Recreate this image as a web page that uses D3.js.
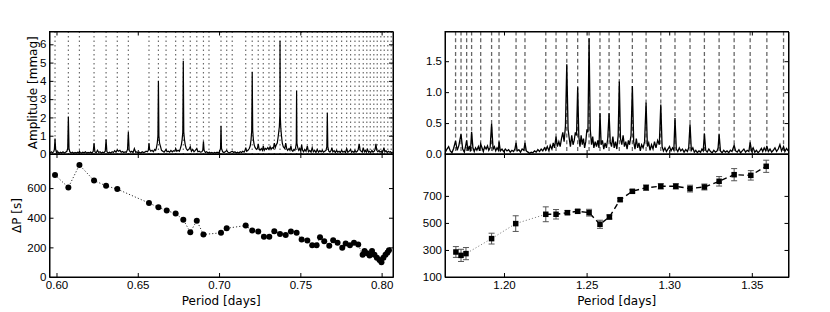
<!DOCTYPE html>
<html>
<head>
<meta charset="utf-8">
<script src="https://cdn.jsdelivr.net/npm/d3@7"></script>
<style>
body { margin: 0; background: #fff; }
svg { font-family: "DejaVu Sans", sans-serif; }
.axis text { font-size: 11.5px; fill: #000; }
.axis path, .axis line { stroke: #000; stroke-width: 1; }
.label { font-size: 12px; fill: #000; }
</style>
</head>
<body>
<svg id="chart" width="830" height="312"></svg>
<script>
// ---- data (periods in days) ----
var linesL = [0.5991, 0.6073, 0.6141, 0.6231, 0.6305, 0.6374, 0.6442, 0.6569, 0.6627, 0.6674, 0.6733,
	0.6780, 0.6823, 0.6863, 0.6904, 0.6938, 0.7012, 0.7047, 0.7081, 0.7164, 0.7204, 0.7241, 0.7272,
	0.7307, 0.7340, 0.7375, 0.7410, 0.7442, 0.7477, 0.7508, 0.7543, 0.7573, 0.7604, 0.7635, 0.7666,
	0.7694, 0.7723, 0.7754, 0.7785, 0.7809, 0.7836, 0.7862, 0.7887, 0.7909, 0.7930, 0.7952, 0.7973,
	0.7995, 0.8016, 0.8038, 0.8059];

var specL = [[0.5960,0.05],[0.5968,0.12],[0.5976,0.06],[0.5984,0.15],[0.5987,0.25],[0.5991,0.85],[0.5995,0.25],
	[0.6000,0.08],[0.6008,0.12],[0.6016,0.04],[0.6024,0.1],[0.6032,0.06],[0.6040,0.12],[0.6048,0.05],[0.6056,0.1],
	[0.6064,0.15],[0.6069,0.3],[0.6073,2.05],[0.6077,0.3],[0.6082,0.12],[0.6090,0.06],[0.6098,0.1],[0.6106,0.04],
	[0.6114,0.08],[0.6122,0.05],[0.6130,0.1],[0.6138,0.06],[0.6141,0.15],[0.6146,0.08],[0.6154,0.05],[0.6162,0.1],
	[0.6170,0.07],[0.6178,0.12],[0.6186,0.05],[0.6194,0.09],[0.6202,0.06],[0.6210,0.11],[0.6218,0.05],[0.6226,0.15],
	[0.6231,0.6],[0.6236,0.12],[0.6244,0.06],[0.6252,0.2],[0.6260,0.08],[0.6268,0.12],[0.6276,0.05],[0.6284,0.1],
	[0.6292,0.07],[0.6300,0.15],[0.6305,0.8],[0.6310,0.12],[0.6318,0.06],[0.6326,0.1],[0.6334,0.05],[0.6342,0.12],
	[0.6350,0.08],[0.6358,0.18],[0.6366,0.1],[0.6374,0.22],[0.6382,0.15],[0.6390,0.2],[0.6398,0.1],[0.6406,0.14],
	[0.6414,0.08],[0.6422,0.12],[0.6430,0.1],[0.6437,0.25],[0.6442,1.2],[0.6447,0.2],[0.6455,0.1],[0.6463,0.15],
	[0.6471,0.08],[0.6479,0.3],[0.6487,0.1],[0.6495,0.12],[0.6503,0.05],[0.6511,0.1],[0.6519,0.06],[0.6527,0.12],
	[0.6535,0.08],[0.6543,0.1],[0.6551,0.15],[0.6559,0.12],[0.6565,0.2],[0.6569,0.6],[0.6573,0.25],[0.6580,0.15],
	[0.6588,0.2],[0.6596,0.12],[0.6604,0.25],[0.6610,0.2],[0.6615,0.35],[0.6620,0.6],[0.6624,1.0],[0.6627,4.0],
	[0.6630,1.0],[0.6634,0.6],[0.6640,0.4],[0.6646,0.2],[0.6654,0.15],[0.6662,0.1],[0.6670,0.2],[0.6674,0.25],
	[0.6680,0.12],[0.6688,0.15],[0.6696,0.1],[0.6704,0.2],[0.6712,0.12],[0.6720,0.18],[0.6728,0.15],[0.6733,0.3],
	[0.6740,0.15],[0.6748,0.2],[0.6756,0.15],[0.6762,0.3],[0.6768,0.5],[0.6773,0.8],[0.6777,1.2],[0.6780,5.1],
	[0.6783,1.2],[0.6787,0.8],[0.6792,0.5],[0.6798,0.3],[0.6806,0.2],[0.6814,0.25],[0.6823,0.4],[0.6830,0.15],
	[0.6838,0.25],[0.6846,0.12],[0.6854,0.2],[0.6863,0.3],[0.6870,0.12],[0.6878,0.15],[0.6886,0.1],[0.6894,0.12],
	[0.6900,0.2],[0.6904,0.7],[0.6908,0.2],[0.6916,0.08],[0.6924,0.12],[0.6932,0.06],[0.6940,0.1],[0.6948,0.05],
	[0.6956,0.08],[0.6964,0.04],[0.6972,0.09],[0.6980,0.05],[0.6988,0.1],[0.6996,0.06],[0.7004,0.15],[0.7009,0.3],
	[0.7012,1.55],[0.7015,0.3],[0.7022,0.12],[0.7030,0.08],[0.7038,0.12],[0.7047,0.2],[0.7054,0.1],[0.7062,0.06],
	[0.7070,0.1],[0.7081,0.15],[0.7090,0.08],[0.7098,0.12],[0.7106,0.05],[0.7114,0.1],[0.7122,0.06],[0.7130,0.12],
	[0.7138,0.08],[0.7146,0.15],[0.7154,0.1],[0.7160,0.2],[0.7164,0.35],[0.7170,0.15],[0.7178,0.2],[0.7186,0.3],
	[0.7192,0.45],[0.7197,0.8],[0.7201,1.3],[0.7204,4.5],[0.7207,1.3],[0.7211,0.8],[0.7216,0.5],[0.7222,0.35],
	[0.7230,0.25],[0.7236,0.3],[0.7241,0.55],[0.7246,0.3],[0.7252,0.2],[0.7260,0.3],[0.7267,0.2],[0.7272,0.45],
	[0.7278,0.2],[0.7285,0.3],[0.7292,0.25],[0.7300,0.35],[0.7307,0.25],[0.7314,0.4],[0.7320,0.25],[0.7327,0.35],
	[0.7334,0.3],[0.7340,0.6],[0.7346,0.35],[0.7352,0.5],[0.7358,0.6],[0.7363,0.9],[0.7367,1.2],[0.7371,1.5],
	[0.7374,2.2],[0.7375,6.2],[0.7377,2.0],[0.7380,1.4],[0.7384,1.0],[0.7389,0.6],[0.7395,0.4],[0.7404,0.3],
	[0.7410,0.6],[0.7416,0.3],[0.7422,0.2],[0.7430,0.3],[0.7436,0.2],[0.7442,0.45],[0.7448,0.2],[0.7454,0.15],
	[0.7460,0.25],[0.7466,0.2],[0.7471,0.35],[0.7475,0.6],[0.7477,3.45],[0.7479,0.6],[0.7484,0.35],[0.7490,0.2],
	[0.7496,0.3],[0.7502,0.15],[0.7508,0.5],[0.7514,0.2],[0.7520,0.12],[0.7527,0.25],[0.7535,0.15],[0.7543,0.45],
	[0.7550,0.12],[0.7558,0.2],[0.7566,0.1],[0.7573,0.35],[0.7580,0.12],[0.7588,0.2],[0.7596,0.08],[0.7604,0.25],
	[0.7612,0.1],[0.7620,0.18],[0.7628,0.12],[0.7635,0.2],[0.7642,0.1],[0.7650,0.15],[0.7658,0.2],[0.7663,0.4],
	[0.7666,2.25],[0.7669,0.4],[0.7675,0.15],[0.7682,0.1],[0.7690,0.2],[0.7694,0.35],[0.7700,0.12],[0.7708,0.18],
	[0.7715,0.08],[0.7723,0.2],[0.7730,0.1],[0.7738,0.15],[0.7746,0.08],[0.7754,0.2],[0.7762,0.1],[0.7770,0.15],
	[0.7778,0.08],[0.7785,0.3],[0.7792,0.1],[0.7800,0.15],[0.7809,0.25],[0.7815,0.1],[0.7822,0.15],[0.7830,0.08],
	[0.7836,0.2],[0.7843,0.1],[0.7850,0.15],[0.7856,0.25],[0.7862,0.55],[0.7868,0.2],[0.7875,0.15],[0.7881,0.1],
	[0.7887,0.35],[0.7894,0.12],[0.7900,0.2],[0.7906,0.1],[0.7913,0.25],[0.7920,0.1],[0.7926,0.15],[0.7933,0.08],
	[0.7940,0.2],[0.7947,0.1],[0.7954,0.15],[0.7960,0.25],[0.7965,0.55],[0.7970,0.2],[0.7977,0.12],[0.7984,0.2],
	[0.7990,0.1],[0.7997,0.15],[0.8004,0.08],[0.8010,0.2],[0.8014,0.35],[0.8020,0.12],[0.8027,0.18],[0.8034,0.08],
	[0.8041,0.15],[0.8048,0.1],[0.8055,0.12],[0.8062,0.06],[0.8068,0.1]];

var dpPeriodL = [0.5991, 0.6073, 0.6141, 0.6231, 0.6305, 0.6374, 0.6569, 0.6627, 0.6678, 0.6733, 0.6780,
	0.6823, 0.6863, 0.6904, 0.7012, 0.7047, 0.7164, 0.7204, 0.7241, 0.7276, 0.7309, 0.7340, 0.7375,
	0.7410, 0.7442, 0.7477, 0.7508, 0.7543, 0.7573, 0.7600, 0.7621, 0.7647, 0.7678, 0.7702, 0.7729,
	0.7758, 0.7779, 0.7805, 0.7830, 0.7856, 0.7883, 0.7895, 0.7910, 0.7926, 0.7941, 0.7956, 0.7971,
	0.7987, 0.7999, 0.8011, 0.8024, 0.8036, 0.8045];
var dpValueL = [689, 604, 756, 651, 615, 593, 499, 470, 448, 428, 387,
	302, 380, 287, 298, 329, 347, 313, 307, 271, 271, 309, 291,
	284, 307, 298, 253, 246, 215, 215, 268, 242, 211, 248, 231,
	197, 226, 215, 231, 219, 150, 175, 160, 145, 175, 150, 130,
	115, 100, 130, 150, 165, 180];

var linesR = [1.1707, 1.1740, 1.1774, 1.1804, 1.1859, 1.1925, 1.1970, 1.2073, 1.2127, 1.2253, 1.2315,
	1.2380, 1.2446, 1.2515, 1.2581, 1.2636, 1.2698, 1.2777, 1.2860, 1.2949, 1.3035, 1.3126, 1.3213,
	1.3302, 1.3393, 1.3490, 1.3591, 1.3692];

var specR = [[1.1645,0.03],[1.1655,0.08],[1.1665,0.12],[1.1675,0.05],[1.1685,0.02],[1.1695,0.09],[1.1707,0.21],
	[1.1717,0.06],[1.1727,0.14],[1.1740,0.32],[1.1750,0.08],[1.1760,0.03],[1.1767,0.12],[1.1774,0.22],[1.1782,0.05],
	[1.1790,0.13],[1.1797,0.04],[1.1804,0.36],[1.1812,0.1],[1.1820,0.04],[1.1828,0.1],[1.1836,0.06],[1.1845,0.12],
	[1.1852,0.05],[1.1859,0.16],[1.1867,0.1],[1.1875,0.04],[1.1883,0.12],[1.1892,0.08],[1.1900,0.13],[1.1908,0.06],
	[1.1916,0.1],[1.1925,0.49],[1.1934,0.08],[1.1942,0.12],[1.1950,0.05],[1.1958,0.1],[1.1966,0.06],[1.1970,0.2],
	[1.1978,0.05],[1.1988,0.08],[1.1998,0.04],[1.2008,0.08],[1.2018,0.05],[1.2028,0.07],[1.2038,0.03],[1.2048,0.06],
	[1.2058,0.04],[1.2066,0.08],[1.2073,0.18],[1.2080,0.05],[1.2090,0.07],[1.2100,0.03],[1.2110,0.08],[1.2120,0.06],
	[1.2127,0.18],[1.2135,0.05],[1.2145,0.03],[1.2155,0.01],[1.2165,0.03],[1.2175,0.02],[1.2185,0.05],[1.2195,0.03],
	[1.2205,0.07],[1.2215,0.04],[1.2225,0.08],[1.2235,0.05],[1.2245,0.1],[1.2253,0.06],[1.2262,0.12],[1.2272,0.05],
	[1.2280,0.14],[1.2290,0.08],[1.2298,0.18],[1.2306,0.1],[1.2315,0.28],[1.2323,0.12],[1.2332,0.2],[1.2340,0.12],
	[1.2348,0.25],[1.2356,0.35],[1.2364,0.2],[1.2372,0.45],[1.2380,1.45],[1.2388,0.4],[1.2395,0.25],[1.2402,0.12],
	[1.2410,0.3],[1.2418,0.15],[1.2425,0.22],[1.2432,0.35],[1.2439,0.3],[1.2446,1.08],[1.2453,0.28],[1.2460,0.12],
	[1.2467,0.3],[1.2474,0.15],[1.2481,0.25],[1.2488,0.1],[1.2495,0.2],[1.2502,0.4],[1.2508,0.35],[1.2515,1.87],
	[1.2522,0.4],[1.2530,0.15],[1.2537,0.28],[1.2544,0.1],[1.2552,0.2],[1.2560,0.12],[1.2568,0.22],[1.2575,0.1],
	[1.2581,0.66],[1.2588,0.15],[1.2596,0.22],[1.2604,0.08],[1.2612,0.18],[1.2620,0.1],[1.2628,0.25],[1.2636,0.66],
	[1.2643,0.2],[1.2651,0.12],[1.2659,0.28],[1.2667,0.1],[1.2675,0.2],[1.2683,0.08],[1.2691,0.3],[1.2698,1.17],
	[1.2705,0.25],[1.2713,0.15],[1.2721,0.3],[1.2729,0.12],[1.2737,0.2],[1.2745,0.08],[1.2753,0.22],[1.2760,0.15],
	[1.2769,0.3],[1.2777,1.10],[1.2785,0.2],[1.2793,0.08],[1.2801,0.25],[1.2809,0.1],[1.2817,0.18],[1.2825,0.05],
	[1.2833,0.15],[1.2842,0.1],[1.2851,0.2],[1.2860,0.83],[1.2868,0.12],[1.2876,0.18],[1.2884,0.06],[1.2893,0.15],
	[1.2902,0.08],[1.2911,0.2],[1.2920,0.1],[1.2930,0.22],[1.2940,0.15],[1.2949,0.80],[1.2957,0.12],[1.2965,0.05],
	[1.2974,0.1],[1.2983,0.04],[1.2992,0.08],[1.3002,0.12],[1.3011,0.05],[1.3020,0.1],[1.3028,0.06],[1.3035,0.58],
	[1.3043,0.08],[1.3052,0.04],[1.3061,0.1],[1.3070,0.05],[1.3080,0.08],[1.3090,0.03],[1.3100,0.07],[1.3110,0.04],
	[1.3118,0.1],[1.3126,0.48],[1.3134,0.06],[1.3143,0.1],[1.3152,0.03],[1.3161,0.06],[1.3170,0.02],[1.3180,0.05],
	[1.3190,0.03],[1.3198,0.08],[1.3206,0.05],[1.3213,0.33],[1.3221,0.06],[1.3230,0.03],[1.3240,0.08],[1.3250,0.04],
	[1.3260,0.02],[1.3270,0.06],[1.3280,0.03],[1.3290,0.05],[1.3296,0.1],[1.3302,0.32],[1.3310,0.05],[1.3320,0.02],
	[1.3330,0.06],[1.3340,0.03],[1.3350,0.05],[1.3360,0.02],[1.3370,0.06],[1.3380,0.04],[1.3393,0.14],[1.3402,0.05],
	[1.3412,0.03],[1.3422,0.07],[1.3432,0.02],[1.3442,0.05],[1.3452,0.08],[1.3462,0.03],[1.3472,0.06],[1.3482,0.04],
	[1.3490,0.19],[1.3498,0.05],[1.3508,0.1],[1.3518,0.03],[1.3528,0.06],[1.3538,0.02],[1.3548,0.05],[1.3558,0.09],
	[1.3566,0.04],[1.3575,0.1],[1.3584,0.05],[1.3591,0.13],[1.3600,0.04],[1.3610,0.08],[1.3620,0.03],[1.3630,0.06],
	[1.3640,0.1],[1.3650,0.04],[1.3660,0.08],[1.3670,0.15],[1.3680,0.05],[1.3692,0.12],[1.3700,0.04],[1.3710,0.09],
	[1.3720,0.05]];

var dpPeriodR = [1.1709, 1.1740, 1.1770, 1.1925, 1.2071, 1.2253, 1.2315, 1.2384, 1.2446, 1.2515, 1.2581,
	1.2638, 1.2703, 1.2777, 1.2860, 1.2949, 1.3040, 1.3126, 1.3213, 1.3302, 1.3393, 1.3494, 1.3587];
var dpValueR = [285, 260, 273, 384, 495, 564, 564, 576, 586, 576, 490,
	544, 672, 734, 761, 771, 771, 754, 766, 808, 857, 852, 919];
var dpErrR = [40, 45, 45, 40, 58, 55, 35, 15, 12, 25, 30,
	15, 10, 12, 20, 20, 20, 25, 22, 35, 45, 35, 45];
var dashStartR = 5; // points from this index on are joined by the dashed line

var xTicksL = [0.60, 0.65, 0.70, 0.75, 0.80];
var xTicksR = [1.20, 1.25, 1.30, 1.35];
var ampTicksL = [0, 1, 2, 3, 4, 5, 6];
var ampTicksR = [0.0, 0.5, 1.0, 1.5];
var dpTicksL = [0, 200, 400, 600];
var dpTicksR = [100, 300, 500, 700];

var svg = d3.select("#chart");

// one axes box with inward ticks on all four sides
function makePanel(id, box, xDom, yDom, xTicks, yTicks, yFmt, xLabels) {
	var x = d3.scaleLinear().domain(xDom).range([box.x0, box.x1]);
	var y = d3.scaleLinear().domain(yDom).range([box.y1, box.y0]);

	svg.append("clipPath")
		.attr("id", id)
	  .append("rect")
		.attr("x", box.x0).attr("y", box.y0)
		.attr("width", box.x1 - box.x0).attr("height", box.y1 - box.y0);

	var g = svg.append("g").attr("clip-path", "url(#" + id + ")");

	function drawAxes() {
		var tk = 4;
		svg.append("g").attr("class", "axis")
			.attr("transform", "translate(0," + box.y1 + ")")
			.call(d3.axisBottom(x).tickValues(xTicks).tickSizeInner(-tk).tickSizeOuter(0)
				.tickPadding(4).tickFormat(xLabels ? d3.format(".2f") : ""));
		svg.append("g").attr("class", "axis")
			.attr("transform", "translate(0," + box.y0 + ")")
			.call(d3.axisTop(x).tickValues(xTicks).tickSizeInner(-tk).tickSizeOuter(0).tickFormat(""));
		svg.append("g").attr("class", "axis")
			.attr("transform", "translate(" + box.x0 + ",0)")
			.call(d3.axisLeft(y).tickValues(yTicks).tickSizeInner(-tk).tickSizeOuter(0)
				.tickPadding(3).tickFormat(d3.format(yFmt)));
		svg.append("g").attr("class", "axis")
			.attr("transform", "translate(" + box.x1 + ",0)")
			.call(d3.axisRight(y).tickValues(yTicks).tickSizeInner(-tk).tickSizeOuter(0).tickFormat(""));
		svg.append("rect")
			.attr("x", box.x0).attr("y", box.y0)
			.attr("width", box.x1 - box.x0).attr("height", box.y1 - box.y0)
			.attr("fill", "none").attr("stroke", "#000").attr("stroke-width", 1);
	}

	return {x: x, y: y, g: g, box: box, drawAxes: drawAxes};
}

var boxLT = {x0: 49.5, x1: 393, y0: 31.5, y1: 154};
var boxLB = {x0: 49.5, x1: 393, y0: 154, y1: 277};
var boxRT = {x0: 445, x1: 788.5, y0: 31.5, y1: 154};
var boxRB = {x0: 445, x1: 788.5, y0: 154, y1: 277};

var pLT = makePanel("clipLT", boxLT, [0.5957, 0.807], [0, 6.7], xTicksL, ampTicksL, "d", false);
var pLB = makePanel("clipLB", boxLB, [0.5957, 0.807], [0, 830], xTicksL, dpTicksL, "d", true);
var pRT = makePanel("clipRT", boxRT, [1.1643, 1.3722], [0, 1.98], xTicksR, ampTicksR, ".1f", false);
var pRB = makePanel("clipRB", boxRB, [1.1643, 1.3722], [100, 1010], xTicksR, dpTicksR, "d", true);

// top left: dotted mode lines + spectrum
pLT.g.selectAll(".vl")
	.data(linesL)
  .enter().append("line")
	.attr("x1", function(d) { return pLT.x(d); })
	.attr("x2", function(d) { return pLT.x(d); })
	.attr("y1", boxLT.y0).attr("y2", boxLT.y1)
	.attr("stroke", "#6a6a6a").attr("stroke-width", 1.2)
	.attr("stroke-dasharray", "1.5,3");

pLT.g.append("path")
	.datum(specL)
	.attr("fill", "none").attr("stroke", "#000").attr("stroke-width", 1.2)
	.attr("d", d3.line().x(function(d) { return pLT.x(d[0]); }).y(function(d) { return pLT.y(d[1]); }));

// bottom left: period spacings
var dpL = dpPeriodL.map(function(p, i) { return {p: p, v: dpValueL[i]}; });
pLB.g.append("path")
	.datum(dpL)
	.attr("fill", "none").attr("stroke", "#333").attr("stroke-width", 1)
	.attr("stroke-dasharray", "1.2,2")
	.attr("d", d3.line().x(function(d) { return pLB.x(d.p); }).y(function(d) { return pLB.y(d.v); }));
pLB.g.selectAll(".dot")
	.data(dpL)
  .enter().append("circle")
	.attr("cx", function(d) { return pLB.x(d.p); })
	.attr("cy", function(d) { return pLB.y(d.v); })
	.attr("r", 3)
	.attr("fill", "#000");

// top right: dashed mode lines + spectrum
pRT.g.selectAll(".vl")
	.data(linesR)
  .enter().append("line")
	.attr("x1", function(d) { return pRT.x(d); })
	.attr("x2", function(d) { return pRT.x(d); })
	.attr("y1", boxRT.y0).attr("y2", boxRT.y1)
	.attr("stroke", "#666").attr("stroke-width", 1.3)
	.attr("stroke-dasharray", "4,2.8");

pRT.g.append("path")
	.datum(specR)
	.attr("fill", "none").attr("stroke", "#000").attr("stroke-width", 1.3)
	.attr("d", d3.line().x(function(d) { return pRT.x(d[0]); }).y(function(d) { return pRT.y(d[1]); }));

// bottom right: spacings with error bars
var dpR = dpPeriodR.map(function(p, i) { return {p: p, v: dpValueR[i], e: dpErrR[i]}; });
var lineR = d3.line().x(function(d) { return pRB.x(d.p); }).y(function(d) { return pRB.y(d.v); });

pRB.g.append("path")
	.datum(dpR.slice(0, dashStartR + 1))
	.attr("fill", "none").attr("stroke", "#888").attr("stroke-width", 1)
	.attr("stroke-dasharray", "1.2,2")
	.attr("d", lineR);
pRB.g.append("path")
	.datum(dpR.slice(dashStartR))
	.attr("fill", "none").attr("stroke", "#000").attr("stroke-width", 1.4)
	.attr("stroke-dasharray", "5.5,3.5")
	.attr("d", lineR);

var eb = pRB.g.selectAll(".eb")
	.data(dpR)
  .enter().append("g")
	.attr("stroke", "#555").attr("stroke-width", 1);
eb.append("line")
	.attr("x1", function(d) { return pRB.x(d.p); })
	.attr("x2", function(d) { return pRB.x(d.p); })
	.attr("y1", function(d) { return pRB.y(d.v - d.e); })
	.attr("y2", function(d) { return pRB.y(d.v + d.e); });
eb.append("line")
	.attr("x1", function(d) { return pRB.x(d.p) - 3; })
	.attr("x2", function(d) { return pRB.x(d.p) + 3; })
	.attr("y1", function(d) { return pRB.y(d.v - d.e); })
	.attr("y2", function(d) { return pRB.y(d.v - d.e); });
eb.append("line")
	.attr("x1", function(d) { return pRB.x(d.p) - 3; })
	.attr("x2", function(d) { return pRB.x(d.p) + 3; })
	.attr("y1", function(d) { return pRB.y(d.v + d.e); })
	.attr("y2", function(d) { return pRB.y(d.v + d.e); });

pRB.g.selectAll(".sq")
	.data(dpR)
  .enter().append("rect")
	.attr("x", function(d) { return pRB.x(d.p) - 2.75; })
	.attr("y", function(d) { return pRB.y(d.v) - 2.75; })
	.attr("width", 5.5).attr("height", 5.5)
	.attr("fill", "#000");

// frames and ticks on top
pLT.drawAxes();
pLB.drawAxes();
pRT.drawAxes();
pRB.drawAxes();

// axis labels
svg.append("text").attr("class", "label")
	.attr("transform", "translate(36.5," + ((boxLT.y0 + boxLT.y1) / 2) + ") rotate(-90)")
	.attr("text-anchor", "middle")
	.text("Amplitude [mmag]");
svg.append("text").attr("class", "label")
	.attr("transform", "translate(20.5," + ((boxLB.y0 + boxLB.y1) / 2) + ") rotate(-90)")
	.attr("text-anchor", "middle")
	.text("ΔP [s]");
svg.append("text").attr("class", "label")
	.attr("x", (boxLB.x0 + boxLB.x1) / 2).attr("y", 305)
	.attr("text-anchor", "middle")
	.text("Period [days]");
svg.append("text").attr("class", "label")
	.attr("x", (boxRB.x0 + boxRB.x1) / 2).attr("y", 305)
	.attr("text-anchor", "middle")
	.text("Period [days]");
</script>
</body>
</html>
